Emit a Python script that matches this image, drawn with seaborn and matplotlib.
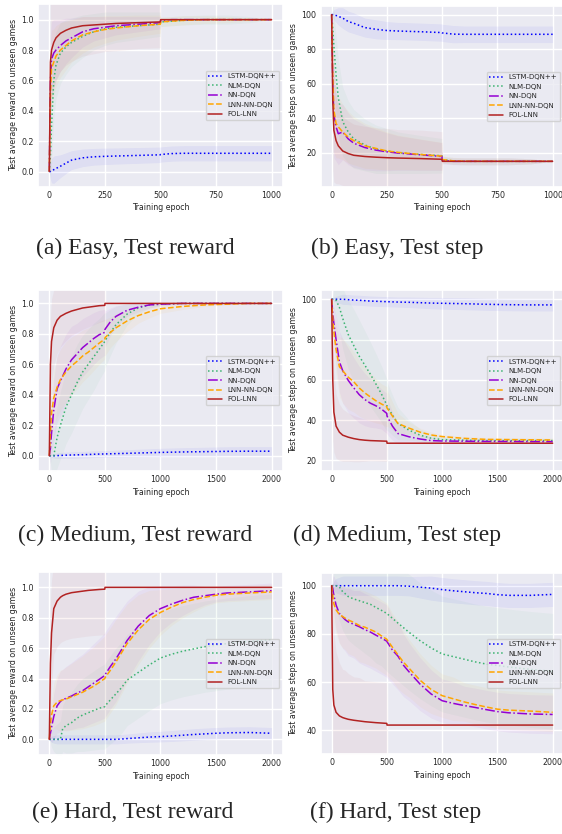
import numpy as np
import pandas as pd
import seaborn as sns
import matplotlib.pyplot as plt

sns.set_theme(style="darkgrid")
plt.rcParams['font.family'] = ['DejaVu Sans']

METHODS = ["LSTM-DQN++", "NLM-DQN", "NN-DQN", "LNN-NN-DQN", "FOL-LNN"]
COLORS = ["blue", "mediumseagreen", "darkviolet", "orange", "firebrick"]
DASHES = [(1, 1.65), (1, 1.65), (6.4, 1.6, 1, 1.6), (3.7, 1.6), ""]

# ---------------- Easy ----------------
EASY_X = [0, 5, 10, 20, 30, 50, 75, 100, 150, 200, 250, 300, 400, 499, 501, 550, 600, 700, 800, 900, 1000]

A_LSTM = [0, 0.0, 0.005, 0.012, 0.02, 0.035, 0.055, 0.075, 0.09, 0.097, 0.10, 0.102, 0.106, 0.11, 0.112, 0.118, 0.12, 0.12, 0.12, 0.12, 0.12]
A_NLM = [0, 0.1, 0.3, 0.6, 0.7, 0.78, 0.82, 0.85, 0.89, 0.92, 0.94, 0.95, 0.96, 0.97, 0.985, 0.99, 0.995, 1, 1, 1, 1]
A_NN = [0, 0.6, 0.74, 0.78, 0.8, 0.83, 0.86, 0.88, 0.92, 0.94, 0.95, 0.96, 0.97, 0.98, 0.995, 1, 1, 1, 1, 1, 1]
A_LNN = [0, 0.5, 0.68, 0.72, 0.76, 0.8, 0.83, 0.86, 0.9, 0.92, 0.935, 0.945, 0.96, 0.97, 0.985, 0.99, 0.995, 1, 1, 1, 1]
A_FOL = [0, 0.72, 0.8, 0.85, 0.88, 0.91, 0.93, 0.945, 0.96, 0.965, 0.97, 0.975, 0.98, 0.985, 1, 1, 1, 1, 1, 1, 1]
A_LSTM_SD = [0, 0.05, 0.08, 0.09, 0.085, 0.075, 0.068, 0.062, 0.058, 0.055, 0.054, 0.053, 0.052, 0.051, 0.05, 0.05, 0.05, 0.05, 0.05, 0.05, 0.05]
A_NLM_SD = [0, 0.15, 0.25, 0.25, 0.22, 0.2, 0.18, 0.16, 0.14, 0.12, 0.11, 0.1, 0.09, 0.08, 0.03, 0.03, 0.03, 0.03, 0.03, 0.02, 0]
A_NN_SD = [0, 0.3, 0.25, 0.22, 0.2, 0.17, 0.15, 0.13, 0.1, 0.08, 0.07, 0.06, 0.05, 0.04, 0.01, 0, 0, 0, 0, 0, 0]
A_LNN_SD = [0, 0.3, 0.25, 0.22, 0.2, 0.18, 0.16, 0.14, 0.12, 0.1, 0.09, 0.08, 0.07, 0.06, 0.03, 0.03, 0.03, 0.025, 0.02, 0.01, 0]
A_FOL_SD = [0, 0.4, 0.35, 0.3, 0.28, 0.25, 0.23, 0.22, 0.2, 0.19, 0.18, 0.18, 0.17, 0.17, 0, 0, 0, 0, 0, 0, 0]

B_LSTM = [100, 100, 100, 99.5, 99, 98, 96, 95, 92.5, 91.5, 90.8, 90.5, 90.1, 89.6, 89.4, 88.7, 88.6, 88.6, 88.6, 88.6, 88.6]
B_NLM = [100, 92, 82, 65, 52, 38, 32, 28, 24.5, 22, 21, 20, 19, 18.2, 16, 15.2, 15, 15, 15, 15, 15]
B_NN = [100, 60, 42, 35, 31, 32, 28, 25.5, 23, 21.5, 20.5, 19.8, 18.8, 17.8, 15.5, 15, 15, 15, 15, 15, 15]
B_LNN = [100, 65, 45, 37, 35, 32, 29, 27, 24, 22.5, 21, 20.2, 19, 18, 16, 15.3, 15, 15, 15, 15, 15]
B_FOL = [100, 50, 33, 27, 24, 21, 19.5, 18.5, 17.8, 17.4, 17.1, 16.9, 16.6, 16.2, 15, 15, 15, 15, 15, 15, 15]
B_LSTM_SD = [0, 2, 3, 4, 5, 6, 6, 6, 5.5, 5.5, 5.2, 5, 5, 5, 5, 5, 4.8, 4.8, 4.8, 4.8, 4.8]
B_NLM_SD = [0, 15, 20, 22, 22, 20, 18, 17, 15, 14, 13, 12, 11, 10, 2, 2, 2, 2, 2, 1.5, 0]
B_NN_SD = [0, 30, 25, 20, 18, 16, 15, 14, 13, 12, 11, 10, 9, 8, 2, 2, 2, 2, 2, 1.5, 0]
B_LNN_SD = [0, 30, 25, 20, 18, 16, 15, 14, 13, 12, 11, 10, 9, 8, 2, 2, 2, 2, 2, 1.5, 0]
B_FOL_SD = [0, 40, 30, 25, 22, 20, 19, 18, 17.5, 17, 17, 16.5, 16.5, 16, 0, 0, 0, 0, 0, 0, 0]

# ---------------- Medium ----------------
MED_X = [0, 10, 20, 40, 70, 100, 150, 200, 250, 300, 350, 400, 450, 499, 501, 550, 600, 700, 800, 900, 1000, 1200, 1400, 1600, 1800, 2000]

C_LSTM = [0, 0, 0, 0, 0.001, 0.002, 0.004, 0.005, 0.006, 0.007, 0.008, 0.01, 0.011, 0.012, 0.012, 0.013, 0.014, 0.016, 0.018, 0.02, 0.022, 0.025, 0.027, 0.029, 0.03, 0.03]
C_NLM = [0, 0, 0, 0, 0.12, 0.2, 0.32, 0.4, 0.48, 0.55, 0.6, 0.65, 0.7, 0.75, 0.755, 0.81, 0.86, 0.93, 0.97, 0.99, 0.995, 1, 1, 1, 1, 1]
C_NN = [0, 0.05, 0.15, 0.3, 0.44, 0.49, 0.57, 0.63, 0.67, 0.71, 0.74, 0.77, 0.795, 0.81, 0.83, 0.88, 0.915, 0.955, 0.975, 0.99, 0.995, 1, 1, 1, 1, 1]
C_LNN = [0, 0.15, 0.28, 0.38, 0.45, 0.5, 0.55, 0.59, 0.62, 0.655, 0.68, 0.71, 0.74, 0.765, 0.775, 0.81, 0.84, 0.885, 0.92, 0.945, 0.965, 0.98, 0.99, 0.995, 1, 1]
C_FOL = [0, 0.6, 0.75, 0.84, 0.89, 0.915, 0.935, 0.95, 0.96, 0.97, 0.975, 0.98, 0.985, 0.987, 1, 1, 1, 1, 1, 1, 1, 1, 1, 1, 1, 1]
C_LSTM_SD = [0, 0.005, 0.01, 0.015, 0.018, 0.02, 0.02, 0.022, 0.022, 0.022, 0.022, 0.022, 0.022, 0.022, 0.022, 0.022, 0.023, 0.024, 0.025, 0.026, 0.027, 0.028, 0.029, 0.03, 0.03, 0.03]
C_NLM_SD = [0, 0.05, 0.1, 0.15, 0.2, 0.22, 0.24, 0.25, 0.25, 0.24, 0.23, 0.22, 0.2, 0.19, 0.18, 0.15, 0.12, 0.07, 0.04, 0.02, 0.01, 0, 0, 0, 0, 0]
C_NN_SD = [0, 0.1, 0.15, 0.2, 0.22, 0.23, 0.23, 0.22, 0.2, 0.19, 0.18, 0.17, 0.16, 0.15, 0.12, 0.09, 0.07, 0.04, 0.03, 0.02, 0.01, 0, 0, 0, 0, 0]
C_LNN_SD = [0, 0.1, 0.15, 0.18, 0.2, 0.2, 0.2, 0.19, 0.18, 0.17, 0.16, 0.15, 0.14, 0.13, 0.12, 0.1, 0.09, 0.07, 0.05, 0.04, 0.03, 0.02, 0.01, 0.005, 0, 0]
C_FOL_SD = [0, 0.3, 0.28, 0.25, 0.22, 0.2, 0.18, 0.16, 0.15, 0.14, 0.13, 0.12, 0.11, 0.1, 0, 0, 0, 0, 0, 0, 0, 0, 0, 0, 0, 0]

D_LSTM = [100, 100, 100, 100, 100, 100, 99.8, 99.6, 99.5, 99.3, 99.1, 99, 98.9, 98.8, 98.8, 98.7, 98.6, 98.5, 98.3, 98.1, 98, 97.8, 97.5, 97.3, 97.2, 97.2]
D_NLM = [100, 100, 100, 99.5, 96, 90.5, 82.5, 77, 71.7, 67.3, 62.8, 58, 53, 47.5, 47, 42.5, 38.3, 35, 32.5, 31, 30.3, 30, 29.8, 29.8, 29.8, 29.8]
D_NN = [100, 93, 88, 80, 69, 64.5, 59.7, 56, 52.6, 50.2, 48.4, 47.1, 45.5, 43.3, 42, 37, 33.3, 31.7, 30.6, 29.8, 29.6, 29.5, 29.4, 29.4, 29.3, 29.3]
D_LNN = [100, 90, 84, 75, 66.5, 64.5, 61.3, 59, 55.9, 53.5, 51.5, 49.6, 48, 46.6, 46, 42, 38.3, 36, 34, 32.6, 31.8, 30.9, 30.4, 30.3, 30.2, 30.1]
D_FOL = [100, 60, 44, 37, 34, 32.5, 31.5, 30.8, 30.3, 30, 29.8, 29.7, 29.6, 29.5, 28.5, 28.5, 28.5, 28.5, 28.5, 28.5, 28.5, 28.5, 28.5, 28.5, 28.5, 28.5]
D_LSTM_SD = [0, 0.5, 1, 1.5, 2, 2.5, 2.5, 2.5, 2.5, 2.5, 2.5, 2.5, 2.5, 2.5, 2.5, 2.5, 2.5, 2.6, 2.7, 2.8, 2.9, 3, 3, 3, 3, 3]
D_NLM_SD = [0, 2, 5, 8, 12, 15, 17, 18, 18, 17, 16, 15, 14, 13, 12, 10, 8, 5, 3, 2, 1.5, 1, 1, 1, 1, 1]
D_NN_SD = [0, 5, 8, 12, 15, 16, 16, 15, 14, 13, 12, 11, 10, 10, 9, 7, 5, 3, 2, 1.5, 1, 1, 1, 1, 1, 1]
D_LNN_SD = [0, 5, 8, 12, 15, 16, 16, 15, 14, 13, 12, 11, 10, 10, 9, 7, 5, 3, 2, 1.5, 1, 1, 1, 1, 1, 1]
D_FOL_SD = [0, 30, 20, 16, 14, 13, 12, 11.5, 11, 10.5, 10, 10, 10, 10, 0, 0, 0, 0, 0, 0, 0, 0, 0, 0, 0, 0]

# ---------------- Hard ----------------
HARD_X = [0, 10, 20, 40, 70, 100, 120, 150, 200, 250, 300, 350, 400, 450, 499, 501, 550, 600, 650, 700, 800, 900, 1000, 1100, 1200, 1300, 1400, 1500, 1600, 1800, 2000]

E_LSTM = [0, 0, 0, 0, 0, 0, 0, 0, 0, 0, 0, 0, 0, 0, 0, 0, 0, 0, 0.002, 0.005, 0.01, 0.015, 0.018, 0.022, 0.027, 0.032, 0.036, 0.04, 0.043, 0.045, 0.04]
E_NLM = [0, 0, 0, 0, 0, 0, 0.07, 0.09, 0.11, 0.14, 0.16, 0.175, 0.19, 0.205, 0.215, 0.22, 0.26, 0.3, 0.34, 0.39, 0.44, 0.49, 0.535, 0.56, 0.58, 0.595, 0.61, 0.62, 0.63, 0.645, 0.655]
E_NN = [0, 0.04, 0.08, 0.15, 0.22, 0.25, 0.26, 0.27, 0.285, 0.305, 0.32, 0.345, 0.37, 0.395, 0.42, 0.425, 0.48, 0.53, 0.59, 0.65, 0.745, 0.815, 0.86, 0.89, 0.915, 0.935, 0.945, 0.955, 0.963, 0.97, 0.978]
E_LNN = [0, 0.1, 0.16, 0.22, 0.245, 0.255, 0.26, 0.265, 0.28, 0.295, 0.31, 0.33, 0.35, 0.375, 0.4, 0.405, 0.455, 0.51, 0.57, 0.63, 0.72, 0.79, 0.835, 0.87, 0.9, 0.92, 0.935, 0.948, 0.955, 0.963, 0.97]
E_FOL = [0, 0.5, 0.7, 0.86, 0.91, 0.935, 0.945, 0.955, 0.965, 0.97, 0.975, 0.98, 0.983, 0.986, 0.988, 1, 1, 1, 1, 1, 1, 1, 1, 1, 1, 1, 1, 1, 1, 1, 1]
E_LSTM_SD = [0, 0.01, 0.02, 0.025, 0.03, 0.03, 0.03, 0.03, 0.03, 0.03, 0.03, 0.03, 0.03, 0.03, 0.03, 0.03, 0.03, 0.03, 0.03, 0.03, 0.032, 0.034, 0.035, 0.036, 0.037, 0.038, 0.038, 0.038, 0.038, 0.038, 0.038]
E_NLM_SD = [0, 0.02, 0.05, 0.08, 0.1, 0.12, 0.15, 0.18, 0.2, 0.22, 0.24, 0.25, 0.26, 0.27, 0.28, 0.28, 0.29, 0.3, 0.3, 0.3, 0.3, 0.3, 0.3, 0.3, 0.3, 0.3, 0.3, 0.3, 0.3, 0.3, 0.3]
E_NN_SD = [0, 0.05, 0.1, 0.15, 0.18, 0.2, 0.2, 0.21, 0.22, 0.23, 0.24, 0.25, 0.26, 0.27, 0.28, 0.28, 0.28, 0.28, 0.27, 0.26, 0.23, 0.19, 0.15, 0.12, 0.1, 0.08, 0.06, 0.05, 0.05, 0.05, 0.05]
E_LNN_SD = [0, 0.05, 0.1, 0.15, 0.18, 0.2, 0.2, 0.21, 0.22, 0.23, 0.24, 0.25, 0.26, 0.27, 0.28, 0.28, 0.28, 0.28, 0.27, 0.26, 0.23, 0.19, 0.15, 0.12, 0.1, 0.08, 0.06, 0.05, 0.05, 0.05, 0.05]
E_FOL_SD = [0, 0.4, 0.35, 0.3, 0.3, 0.3, 0.3, 0.3, 0.3, 0.3, 0.3, 0.3, 0.3, 0.3, 0.3, 0, 0, 0, 0, 0, 0, 0, 0, 0, 0, 0, 0, 0, 0, 0, 0]

F_LSTM = [100, 100, 100, 100, 100, 100, 100, 100, 100, 100, 100, 100, 100, 100, 100, 100, 100, 100, 99.9, 99.8, 99.4, 99, 98.4, 97.9, 97.5, 97.1, 96.8, 96.3, 96, 96, 96.4]
F_NLM = [100, 100, 100, 100, 99.5, 97.5, 96.8, 95.5, 94.5, 93.8, 93, 92.3, 91, 89.8, 88.5, 88.4, 86.5, 84.5, 82.6, 80.7, 77.2, 74.2, 71.7, 70.6, 69.5, 68.4, 67.5, 66.9, 66.3, 65.3, 64.5]
F_NN = [100, 99, 96, 92, 88.5, 87, 86, 85, 84, 83, 81.8, 80.8, 79.5, 78.3, 77, 76.8, 73.3, 70.8, 67, 64.3, 59.2, 55.1, 52.3, 51.2, 50.3, 49.5, 48.6, 47.8, 47.3, 46.8, 46.6]
F_LNN = [100, 96, 92.5, 90, 88, 87.2, 86.6, 85.8, 84.8, 83.5, 82.8, 81.8, 80.8, 79.2, 77.8, 77.6, 74.5, 71.3, 68.3, 65.8, 60.8, 57, 54.4, 53.1, 51.8, 50.7, 49.7, 48.8, 48.4, 48, 47.5]
F_FOL = [100, 57, 50.5, 47.5, 46, 45.3, 45, 44.6, 44.2, 43.9, 43.6, 43.4, 43.2, 43.05, 42.9, 42.2, 42.2, 42.2, 42.2, 42.2, 42.2, 42.2, 42.2, 42.2, 42.2, 42.2, 42.2, 42.2, 42.2, 42.2, 42.2]
F_LSTM_SD = [0, 1, 2, 3, 3.5, 4, 4, 4, 4, 4, 4, 4, 4, 4, 4, 4, 4, 4, 4, 4, 4.5, 5, 5, 5, 5, 5, 5, 5, 5, 5, 5]
F_NLM_SD = [0, 3, 6, 10, 14, 16, 17, 18, 19, 20, 21, 22, 23, 23, 24, 24, 24, 24, 24, 24, 24, 24, 24, 24, 24, 24, 24, 24, 24, 24, 24]
F_NN_SD = [0, 5, 8, 10, 12, 13, 13, 14, 14, 15, 15, 15, 15, 15, 15, 15, 14, 14, 13, 12, 11, 10, 9, 9, 8, 8, 8, 8, 8, 8, 8]
F_LNN_SD = [0, 5, 8, 10, 12, 13, 13, 14, 14, 15, 15, 15, 15, 15, 15, 15, 14, 14, 13, 12, 11, 10, 9, 9, 8, 8, 8, 8, 8, 8, 8]
F_FOL_SD = [0, 40, 30, 25, 22, 20, 20, 19, 18, 18, 17, 17, 17, 17, 17, 0, 0, 0, 0, 0, 0, 0, 0, 0, 0, 0, 0, 0, 0, 0, 0]

REWARD_LABEL = "Test average reward on unseen games"
STEP_LABEL = "Test average steps on unseen games"
XLABEL = "Training epoch"
CAPTIONS = ["(a) Easy, Test reward", "(b) Easy, Test step",
            "(c) Medium, Test reward", "(d) Medium, Test step",
            "(e) Hard, Test reward", "(f) Hard, Test step"]
EASY_TICKS = [0, 250, 500, 750, 1000]
LONG_TICKS = [0, 500, 1000, 1500, 2000]
REWARD_TICKS = [0.0, 0.2, 0.4, 0.6, 0.8, 1.0]

W, H = 562, 834
fig = plt.figure(figsize=(W / 100, H / 100), dpi=100)


def px_rect(x0, x1, y0, y1):
    return [x0 / W, 1 - y1 / H, (x1 - x0) / W, (y1 - y0) / H]


def draw(rect, x, means, sds, ylim, xlim, xticks, yticks, ylabel):
    ax = fig.add_axes(rect)
    x = np.asarray(x, float)
    for ys, sd, c in zip(means, sds, COLORS):
        ys = np.asarray(ys, float)
        sd = np.asarray(sd, float)
        ax.fill_between(x, ys - sd, ys + sd, color=c, alpha=0.05, lw=0, zorder=1)
    df = pd.DataFrame({
        "epoch": np.tile(x, len(METHODS)),
        "value": np.concatenate([np.asarray(m, float) for m in means]),
        "method": np.repeat(METHODS, len(x)),
    })
    sns.lineplot(data=df, x="epoch", y="value", hue="method", style="method",
                 hue_order=METHODS, style_order=METHODS,
                 palette=dict(zip(METHODS, COLORS)),
                 dashes=dict(zip(METHODS, DASHES)),
                 linewidth=1.1, errorbar=None, ax=ax, zorder=3)
    ax.set_xlim(*xlim)
    ax.set_ylim(*ylim)
    ax.set_xticks(xticks)
    ax.set_yticks(yticks)
    if isinstance(yticks[0], float):
        ax.set_yticklabels([f"{v:.1f}" for v in yticks])
    ax.tick_params(length=0, pad=3, labelsize=5.7)
    ax.set_xlabel(XLABEL, fontsize=5.7, labelpad=2.5)
    ax.set_ylabel(ylabel, fontsize=5.7, labelpad=2.5)
    sns.move_legend(ax, "center right", title=None, fontsize=5, frameon=True,
                    borderaxespad=0.5)
    return ax


draw(px_rect(38.2, 282.7, 4, 186.7), EASY_X,
     [A_LSTM, A_NLM, A_NN, A_LNN, A_FOL], [A_LSTM_SD, A_NLM_SD, A_NN_SD, A_LNN_SD, A_FOL_SD],
     (-0.1, 1.103), (-50, 1050), EASY_TICKS, REWARD_TICKS, REWARD_LABEL)
draw(px_rect(320.6, 563.7, 6, 186.7), EASY_X,
     [B_LSTM, B_NLM, B_NN, B_LNN, B_FOL], [B_LSTM_SD, B_NLM_SD, B_NN_SD, B_LNN_SD, B_FOL_SD],
     (0.3, 105), (-50, 1050), EASY_TICKS, [20, 40, 60, 80, 100], STEP_LABEL)
draw(px_rect(38.2, 282.7, 290, 471), MED_X,
     [C_LSTM, C_NLM, C_NN, C_LNN, C_FOL], [C_LSTM_SD, C_NLM_SD, C_NN_SD, C_LNN_SD, C_FOL_SD],
     (-0.1, 1.088), (-100, 2100), LONG_TICKS, REWARD_TICKS, REWARD_LABEL)
draw(px_rect(320.6, 563.7, 290, 471), MED_X,
     [D_LSTM, D_NLM, D_NN, D_LNN, D_FOL], [D_LSTM_SD, D_NLM_SD, D_NN_SD, D_LNN_SD, D_FOL_SD],
     (14.7, 104.6), (-100, 2100), LONG_TICKS, [20, 40, 60, 80, 100], STEP_LABEL)
draw(px_rect(38.2, 282.7, 571.7, 755), HARD_X,
     [E_LSTM, E_NLM, E_NN, E_LNN, E_FOL], [E_LSTM_SD, E_NLM_SD, E_NN_SD, E_LNN_SD, E_FOL_SD],
     (-0.103, 1.103), (-100, 2100), LONG_TICKS, REWARD_TICKS, REWARD_LABEL)
draw(px_rect(320.6, 563.7, 572.7, 754), HARD_X,
     [F_LSTM, F_NLM, F_NN, F_LNN, F_FOL], [F_LSTM_SD, F_NLM_SD, F_NN_SD, F_LNN_SD, F_FOL_SD],
     (30.2, 105.4), (-100, 2100), LONG_TICKS, [40, 60, 80, 100], STEP_LABEL)

CAP_POS = [(135, 248), (397, 248), (135, 535), (397, 535), (133, 812), (396, 812)]
for (cx, cy), text in zip(CAP_POS, CAPTIONS):
    fig.text(cx / W, 1 - cy / H, text, ha="center", va="center",
             fontsize=17, family=["Liberation Serif", "DejaVu Serif"])

fig.savefig("out.png", dpi=100)
